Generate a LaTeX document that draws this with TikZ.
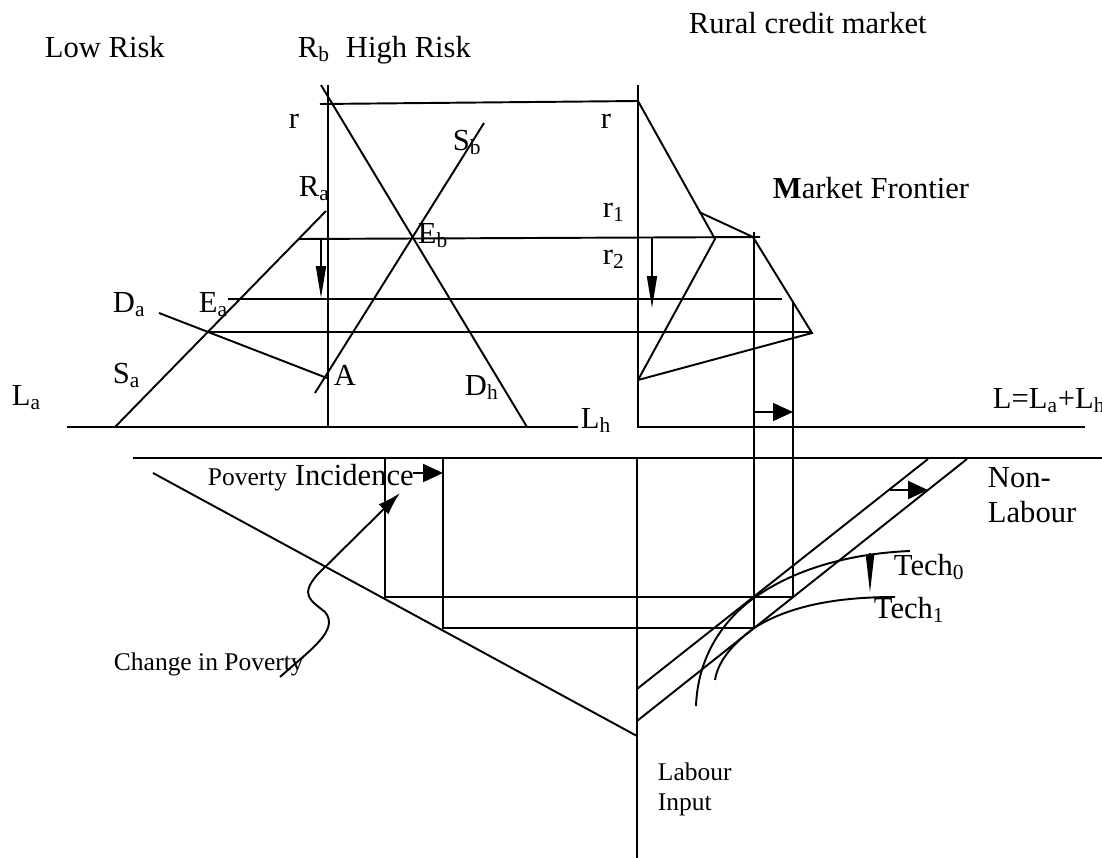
\documentclass[tikz,border=0pt]{standalone}
\usepackage{fontspec}
\setmainfont{Liberation Serif}
\usetikzlibrary{arrows.meta}

\begin{document}
\begin{tikzpicture}[x=0.2mm, y=-0.2mm, line width=1.1pt,
    font=\fontsize{17.4}{21}\selectfont,
    lbl/.style={anchor=base west, inner sep=0pt},
    smalltext/.style={font=\fontsize{14.5}{17}\selectfont},
    axisline/.style={line width=1.6pt},
    push/.style={-{Triangle[length=4mm, width=3.6mm]}},
    drop/.style={-{Triangle[length=6.4mm, width=2mm]}}]
  \useasboundingbox (0,0) rectangle (1102,858);
  % upper left: two risk groups
  \draw[axisline] (67,427) -- (578,427);
  \draw[axisline] (328,85) -- (328,427);
  \draw (320,104) -- (638,101);
  \draw (321,85) -- (527,427);
  \draw (315,393) -- (484,123);
  \draw (115,427) -- (326,211);
  \draw (159,313) -- (327,378);
  \draw (298,239) -- (760,237);
  \draw (228,299) -- (782,299);
  \draw (207,332) -- (812,332);
  \draw[drop] (321,240) -- (321,298);
  \draw[drop] (652,238) -- (652,308);
  % upper right: market frontier
  \draw[axisline] (638,85) -- (638,427) -- (1085,427);
  \draw (638,101) -- (715,239) -- (638,380);
  \draw (699,212) -- (753,237) -- (812,333) -- (638,380);
  \draw (754,232) -- (754,628);
  \draw (793,302) -- (793,597);
  \draw[push] (754,412) -- (793,412);
  % lower half
  \draw (133,458) -- (1102,458);
  \draw[axisline] (637,458) -- (637,858);
  \draw (153,473) -- (637,736);
  \draw (385,458) -- (385,597) -- (793,597);
  \draw (443,458) -- (443,628) -- (754,628);
  \draw[push] (413,473) -- (443,473);
  \draw (637,689) -- (928,459);
  \draw (637,721) -- (967,459);
  \draw[push] (890,490) -- (928,490);
  \draw (696,706) .. controls (698,650) and (730,615) .. (754,598)
    .. controls (800,565) and (860,553) .. (910,551);
  \draw (715,680) .. controls (718,660) and (735,642) .. (754,628)
    .. controls (795,602) and (850,597) .. (895,597);
  \draw[-{Triangle[length=7.6mm, width=1.6mm]}] (870,553) -- (870,593);
  \draw[-{Latex[length=4.6mm, width=2.8mm]}] (280,677)
    .. controls (310,650) and (340,630) .. (325,612)
    .. controls (310,600) and (300,595) .. (317,575) -- (400,493);
  % labels
  \node[lbl] (lowrisk) at (44,57) {Low Risk};
  \node[lbl] (rb) at (297,57) {R\textsubscript{b}};
  \node[lbl] (highrisk) at (345,57) {High Risk};
  \node[lbl] (rural) at (688,33) {Rural credit market};
  \node[lbl] (rleft) at (288,128) {r};
  \node[lbl] (rright) at (600,128) {r};
  \node[lbl] (ra) at (298,196) {R\textsubscript{a}};
  \node[lbl] (sb) at (452,150) {S\textsubscript{b}};
  \node[lbl] (eb) at (417,243) {E\textsubscript{b}};
  \node[lbl] (rone) at (602,217) {r\textsubscript{1}};
  \node[lbl] (rtwo) at (602,264) {r\textsubscript{2}};
  \node[lbl] (frontier) at (772,198) {\textbf{M}arket Frontier};
  \node[lbl] (da) at (112,312) {D\textsubscript{a}};
  \node[lbl] (ea) at (198,312) {E\textsubscript{a}};
  \node[lbl] (sa) at (112,383) {S\textsubscript{a}};
  \node[lbl] (la) at (11,405) {L\textsubscript{a}};
  \node[lbl] (a) at (333,385) {A};
  \node[lbl] (dh) at (464,395) {D\textsubscript{h}};
  \node[lbl] (lh) at (580,428) {L\textsubscript{h}};
  \node[lbl] (ltotal) at (992,408) {L=L\textsubscript{a}+L\textsubscript{h}};
  \node[lbl] (incidence) at (207,485) {{\fontsize{14.5}{17}\selectfont Poverty} Incidence};
  \node[lbl] (nonlab) at (987,487) {Non-};
  \node[lbl] (labour) at (987,522) {Labour};
  \node[lbl] (techzero) at (893,575) {Tech\textsubscript{0}};
  \node[lbl] (techone) at (873,618) {Tech\textsubscript{1}};
  \node[lbl, smalltext] (change) at (113,670) {Change in Poverty};
  \node[lbl, smalltext] (labin) at (657,780) {Labour};
  \node[lbl, smalltext] (input) at (657,810) {Input};
\end{tikzpicture}
\end{document}
